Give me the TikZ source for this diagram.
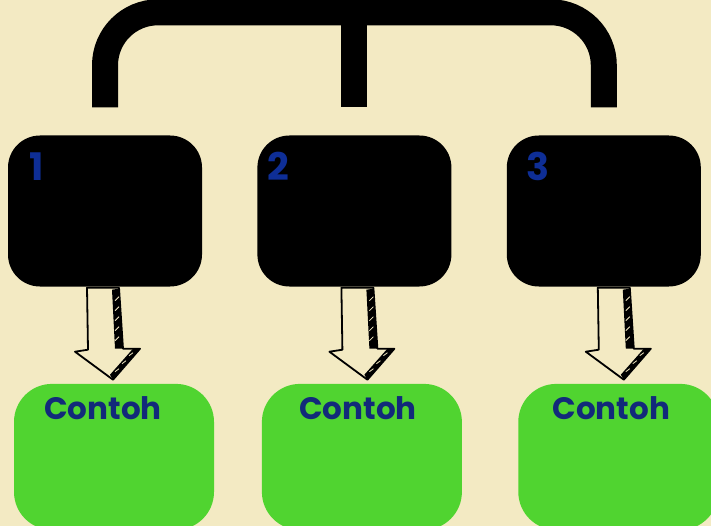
\documentclass[tikz,border=0pt]{standalone}
\usepackage{fontspec}
\setmainfont{Poppins}
\usetikzlibrary{positioning, calc}
\definecolor{cream}{HTML}{F3EAC3}
\definecolor{leaf}{HTML}{50D430}
\definecolor{navy}{HTML}{122A7A}
\definecolor{numblue}{HTML}{0E2E96}
\tikzset{blackbox/.style={rectangle, rounded corners=32pt, minimum width=194pt, minimum height=151pt, inner sep=0pt, fill=black},
         greenbox/.style={rectangle, rounded corners=38pt, minimum width=200pt, minimum height=146pt, inner sep=0pt, fill=leaf},
         numlbl/.style={text=numblue, font=\bfseries\fontsize{38}{38}\selectfont, inner sep=0pt},
         exlbl/.style={text=navy, font=\bfseries\fontsize{31}{31}\selectfont, inner sep=0pt},
         bracket/.style={line width=26pt, rounded corners=53pt, draw=black},
         sketch/.style={draw=black, line width=1.8pt, line join=round, fill=cream},
         hatch/.style={draw=cream, line width=0.8pt}}

\begin{document}
\begin{tikzpicture}[x=1pt, y=-1pt]
        \fill[cream] (0,0) rectangle (711,526);
        \useasboundingbox (0,0) rectangle (711,526);
        \clip (0,0) rectangle (711,526);

        \node (box1)[blackbox] at (105,211){};
        \node (box2)[blackbox, right=55pt of box1]{};
        \node (box3)[blackbox, right=55pt of box2]{};
        \node (num1)[numlbl] at ($(box1.north west)+(29,31)$){1};
        \node (num2)[numlbl] at ($(box2.north west)+(21,31)$){2};
        \node (num3)[numlbl] at ($(box3.north west)+(31,31)$){3};

        \coordinate (top) at ($(box2.north)+(0,-123)$);
        \draw [bracket] ($(box1.north)+(0,-28)$) |- (top) -| ($(box3.north)+(0,-28)$);
        \draw [bracket] (top) -- ($(box2.north)+(0,-28)$);

        \node (green1)[greenbox, below=97pt of box1, xshift=9pt]{};
        \node (green2)[greenbox, below=97pt of box2, xshift=7.5pt]{};
        \node (green3)[greenbox, below=97pt of box3, xshift=14.5pt]{};
        \node (ex1)[exlbl, anchor=base] at ($(green1.north)+(-11,36)$){Contoh};
        \node (ex2)[exlbl, anchor=base] at ($(green2.north)+(-4,36)$){Contoh};
        \node (ex3)[exlbl, anchor=base] at ($(green3.north)+(-7,36)$){Contoh};

        % hand drawn arrows
        \foreach \i/\dx in {1/0, 2/5, 3/12}{
            \begin{scope}[shift={($(box\i.south)+(\dx,0)$)}]
                \draw [sketch] (-18,1) -- (-17,63) -- (-30,65) -- (8,93) -- (35,62) -- (18,62) -- (14,1) -- cycle;
                \fill [black] (7,3) -- (14,2) -- (18,62) -- (10,62) -- cycle;
                \fill [black] (35,62) -- (28,62) -- (5,88) -- (8,93) -- cycle;
                \foreach \y in {10,20,...,50}
                    \draw [hatch] (10,\y+4) -- (14,\y);
                \draw [hatch] (24,69) -- (28,66);
                \draw [hatch] (17,77) -- (21,74);
                \draw [hatch] (10,85) -- (14,82);
            \end{scope}
        }
    \end{tikzpicture}
\end{document}
